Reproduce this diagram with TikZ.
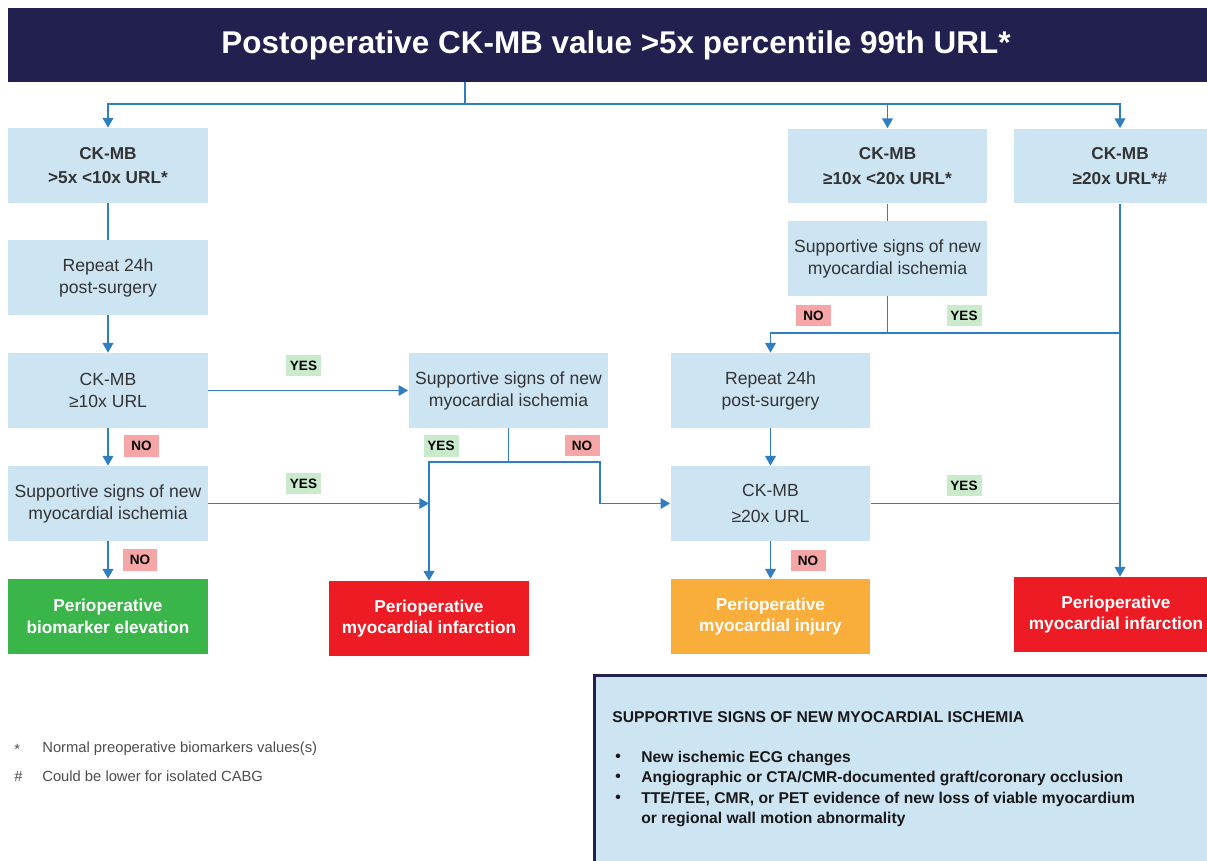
\documentclass[tikz,border=0pt]{standalone}
\usepackage{fontspec}
\setmainfont{Liberation Sans}
\usetikzlibrary{arrows.meta,positioning}
\definecolor{navy}{HTML}{22204F}
\definecolor{boxblue}{HTML}{CDE4F3}
\definecolor{lineblue}{HTML}{2F7EC1}
\definecolor{okgreen}{HTML}{3AB54A}
\definecolor{mired}{HTML}{ED1C24}
\definecolor{injorange}{HTML}{F9AD3B}
\definecolor{nopink}{HTML}{F6A6A6}
\definecolor{yesgreen}{HTML}{C9EACB}
\definecolor{textgray}{HTML}{333333}
\definecolor{notegray}{HTML}{4D4D4D}

\tikzset{
  stepbox/.style={fill=boxblue, minimum width=4cm, minimum height=1.5cm, align=center,
    inner sep=0pt, text=textgray, font=\fontsize{10}{12.5}\selectfont},
  headbox/.style={stepbox, font=\bfseries\fontsize{9.8}{14}\selectfont},
  endbox/.style={stepbox, text=white, font=\bfseries\fontsize{9.8}{12.3}\selectfont},
  flow/.style={draw=lineblue, line width=1pt},
  arrow/.style={flow, -{Triangle[length=5.5pt,width=6pt]}},
  tag/.style={minimum width=0.7cm, minimum height=0.44cm, inner sep=0pt,
    font=\bfseries\fontsize{7.7}{8}\selectfont},
  yes/.style={tag, fill=yesgreen},
  no/.style={tag, fill=nopink},
  note/.style={anchor=west, inner sep=0pt, text=notegray, font=\fontsize{8.4}{10}\selectfont},
  signs/.style={anchor=west, inner sep=0pt, text=black!90, font=\bfseries\fontsize{8.9}{10}\selectfont},
  panel/.style={draw=navy, fill=boxblue, line width=1.7pt}
}

\begin{document}
\begin{tikzpicture}[x=0.02cm, y=-0.02cm]
\useasboundingbox (0,0) rectangle (1207,861);
\clip (0,0) rectangle (1207,861);

% header
\node[fill=navy, minimum width=24.32cm, minimum height=1.48cm, inner sep=0pt, text=white,
  font=\bfseries\fontsize{17.9}{20}\selectfont] (title) at (616,45)
  {Postoperative CK-MB value >5x percentile 99th URL*};
\coordinate (split) at (465,104);

% left column
\node[headbox] (A1) at (108,165.5) {CK-MB\\>5x <10x URL*};
\node[stepbox] (A2) at (108,277.5) {Repeat 24h\\post-surgery};
\node[stepbox] (A3) at (108,390.5) {CK-MB\\≥10x URL};
\node[stepbox] (A4) at (108,503.5) {Supportive signs of new\\myocardial ischemia};
\node[endbox, fill=okgreen] (G) at (108,616.5) {Perioperative\\biomarker elevation};

% middle column
\node[stepbox] (B1) at (508.5,390.5) {Supportive signs of new\\myocardial ischemia};
\node[endbox, fill=mired] (R1) at (429,618.5) {Perioperative\\myocardial infarction};
\coordinate (bsplit) at (508.5,462);

% right columns
\node[headbox] (C1) at (887.5,166) {CK-MB\\≥10x <20x URL*};
\node[stepbox] (C2) at (887.5,258.5) {Supportive signs of new\\myocardial ischemia};
\node[stepbox] (C3) at (770.5,390.5) {Repeat 24h\\post-surgery};
\node[stepbox, font=\fontsize{10}{14.5}\selectfont] (C4) at (770.5,503.5) {CK-MB\\≥20x URL};
\node[endbox, fill=injorange] (O) at (770.5,616.5) {Perioperative\\myocardial injury};
\node[headbox, minimum width=4.24cm] (D1) at (1120,166) {CK-MB\\≥20x URL*\#};
\node[endbox, fill=mired, minimum width=4.08cm] (R2) at (1116,614.5) {Perioperative\\myocardial infarction};
\coordinate (csplit) at (887.5,333);

% connectors
\draw[flow] (title.south -| split) -- (split);
\draw[arrow] (split) -| (A1.north);
\draw[arrow] (split) -| (C1.north);
\draw[arrow] (split) -| (D1.north);

\draw[flow] (A1) -- (A2);
\draw[arrow] (A2) -- (A3);
\draw[arrow] (A3) -- (A4);
\draw[arrow] (A4) -- (G);
\draw[arrow] (A3) -- (B1);
\draw[arrow] (A4.east) -- (A4.east -| R1.north);

\draw[flow] (B1) -- (bsplit);
\draw[arrow] (bsplit) -| (R1.north);
\draw[arrow] (bsplit) -- ++(91.5,0) |- (C4.west);

\draw[flow] (C1) -- (C2);
\draw[flow] (C2) -- (csplit);
\draw[arrow] (csplit) -| (C3.north);
\draw[flow] (csplit) -- (csplit -| D1.south);
\draw[arrow] (C3) -- (C4);
\draw[arrow] (C4) -- (O);
\draw[flow] (C4.east) -- (C4.east -| D1.south);
\draw[arrow] (D1.south) -- (D1.south |- R2.north);

% yes / no tags
\node[yes] (yes1) at (303.5,365.5) {YES};
\node[no] (no1) at (141.5,446) {NO};
\node[yes] (yes2) at (303.5,483.5) {YES};
\node[no] (no2) at (140,560) {NO};
\node[yes] (yes3) at (441,446) {YES};
\node[no] (no3) at (582,445.5) {NO};
\node[no] (no4) at (813.5,315.5) {NO};
\node[yes] (yes4) at (964,315.5) {YES};
\node[yes] (yes5) at (964,485.5) {YES};
\node[no] (no5) at (808,560.5) {NO};

% footnotes
\node[note] (star) at (14,749) {*};
\node[note] (starnote) at (42,749) {Normal preoperative biomarkers values(s)};
\node[note] (hash) at (14,776) {\#};
\node[note] (hashnote) at (42,776) {Could be lower for isolated CABG};

% supportive signs panel
\draw[panel] (594.5,675.5) rectangle (1225,880);
\node[signs] (signshead) at (612,717) {SUPPORTIVE SIGNS OF NEW MYOCARDIAL ISCHEMIA};
\node[signs] (bul1) at (615,758) {\textbullet};
\node[signs] (sign1) at (641,758) {New ischemic ECG changes};
\node[signs] (bul2) at (615,778) {\textbullet};
\node[signs] (sign2) at (641,778) {Angiographic or CTA/CMR-documented graft/coronary occlusion};
\node[signs] (bul3) at (615,799) {\textbullet};
\node[signs] (sign3) at (641,799) {TTE/TEE, CMR, or PET evidence of new loss of viable myocardium};
\node[signs] (sign4) at (641,819) {or regional wall motion abnormality};
\end{tikzpicture}
\end{document}
